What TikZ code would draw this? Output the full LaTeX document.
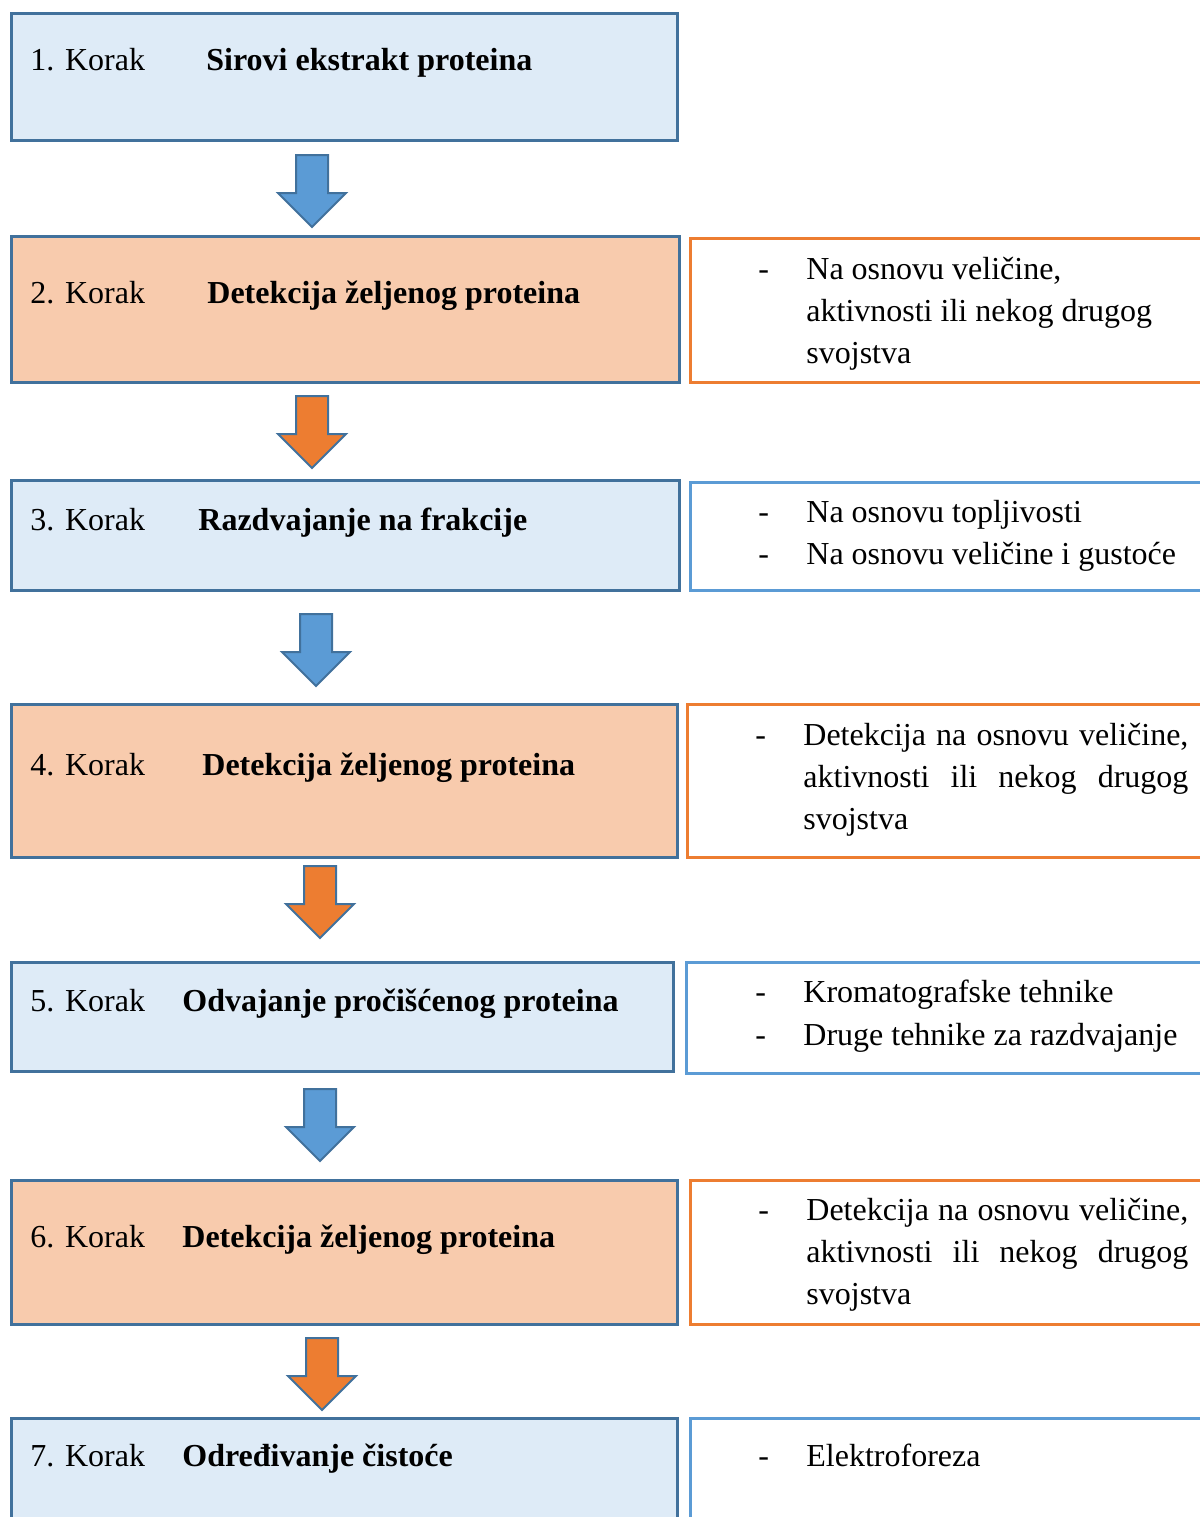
\documentclass[tikz,border=0pt]{standalone}
\usepackage{fontspec}
\setmainfont{Liberation Serif}
\usetikzlibrary{positioning}

\definecolor{stepblue}{HTML}{DEEBF7}
\definecolor{steppeach}{HTML}{F8CBAD}
\definecolor{edgeblue}{HTML}{41719C}
\definecolor{noteorange}{HTML}{ED7D31}
\definecolor{noteblue}{HTML}{5B9BD5}

\tikzset{
  stepbox/.style={draw=edgeblue, line width=1.5pt, rectangle, anchor=north west, inner sep=0pt},
  notebox/.style={draw, line width=1.5pt, fill=white, rectangle, anchor=north west, inner sep=0pt, minimum width=270pt},
  steplabel/.style={anchor=base west, inner sep=0pt, font=\fontsize{16}{21}\selectfont},
  steptitle/.style={anchor=base west, inner sep=0pt, font=\fontsize{16}{21}\selectfont\bfseries},
  notetext/.style={anchor=base west, inner sep=0pt, align=left, font=\fontsize{16}{21}\selectfont},
  korakarrow/.pic={\draw[pic actions, draw=edgeblue, line width=1pt, line join=miter]
    (-16,0) -- (16,0) -- (16,38) -- (34,38) -- (0,72) -- (-34,38) -- (-16,38) -- cycle;}
}

\begin{document}
\begin{tikzpicture}[x=0.5pt, y=-0.5pt]
\useasboundingbox (0,0) rectangle (1200,1517);
\clip (0,0) rectangle (1200,1517);

% koraci
\node[stepbox, fill=stepblue, minimum width=333pt, minimum height=63.5pt] (s1) at (10,12) {};
\node[stepbox, fill=steppeach, minimum width=334pt, minimum height=73pt] (s2) at (10,235) {};
\node[stepbox, fill=stepblue, minimum width=334pt, minimum height=55pt] (s3) at (10,479) {};
\node[stepbox, fill=steppeach, minimum width=333pt, minimum height=76.5pt] (s4) at (10,703) {};
\node[stepbox, fill=stepblue, minimum width=331pt, minimum height=54.5pt] (s5) at (10,961) {};
\node[stepbox, fill=steppeach, minimum width=333pt, minimum height=72pt] (s6) at (10,1179) {};
\node[stepbox, fill=stepblue, minimum width=333pt, minimum height=70pt] (s7) at (10,1417) {};

\node[steplabel] (k1) at (30,70) {1. Korak};
\node[steptitle] (t1) at (206,70) {Sirovi ekstrakt proteina};
\node[steplabel] (k2) at (30,303) {2. Korak};
\node[steptitle] (t2) at (207,303) {Detekcija željenog proteina};
\node[steplabel] (k3) at (30,530) {3. Korak};
\node[steptitle] (t3) at (198,530) {Razdvajanje na frakcije};
\node[steplabel] (k4) at (30,775) {4. Korak};
\node[steptitle] (t4) at (202,775) {Detekcija željenog proteina};
\node[steplabel] (k5) at (30,1011) {5. Korak};
\node[steptitle] (t5) at (182,1011) {Odvajanje pročišćenog proteina};
\node[steplabel] (k6) at (30,1247) {6. Korak};
\node[steptitle] (t6) at (182,1247) {Detekcija željenog proteina};
\node[steplabel] (k7) at (30,1466) {7. Korak};
\node[steptitle] (t7) at (182,1466) {Određivanje čistoće};

% strelice
\pic[fill=noteblue] at (312,155) {korakarrow};
\pic[fill=noteorange] at (312,396) {korakarrow};
\pic[fill=noteblue] at (316,614) {korakarrow};
\pic[fill=noteorange] at (320,866) {korakarrow};
\pic[fill=noteblue] at (320,1089) {korakarrow};
\pic[fill=noteorange] at (322,1338) {korakarrow};

% napomene (visereddi tekst: base = zadnji red)
\node[notebox, draw=noteorange, minimum height=72pt] (r2) at (689,237) {};
\node[notebox, draw=noteblue, minimum height=54pt] (r3) at (689,481) {};
\node[notebox, draw=noteorange, minimum height=76.5pt] (r4) at (686,703) {};
\node[notebox, draw=noteblue, minimum height=55.5pt] (r5) at (685,961) {};
\node[notebox, draw=noteorange, minimum height=72pt] (r6) at (689,1179) {};
\node[notebox, draw=noteblue, minimum height=70pt] (r7) at (689,1417) {};

\node[notetext] (d2) at (758,279) {-};
\node[notetext] (n2) at (806,363) {Na osnovu veličine,\\aktivnosti ili nekog drugog\\svojstva};
\node[notetext] (d3a) at (758,522) {-};
\node[notetext] (n3a) at (806,522) {Na osnovu topljivosti};
\node[notetext] (d3b) at (758,564) {-};
\node[notetext] (n3b) at (806,564) {Na osnovu veličine i gustoće};
\node[notetext] (d4) at (755,745) {-};
\node[notetext] (n4) at (803,829) {\makebox[192.5pt][s]{Detekcija na osnovu veličine,}\\\makebox[192.5pt][s]{aktivnosti ili nekog drugog}\\svojstva};
\node[notetext] (d5a) at (755,1002) {-};
\node[notetext] (n5a) at (803,1002) {Kromatografske tehnike};
\node[notetext] (d5b) at (755,1045) {-};
\node[notetext] (n5b) at (803,1045) {Druge tehnike za razdvajanje};
\node[notetext] (d6) at (758,1220) {-};
\node[notetext] (n6) at (806,1304) {\makebox[191pt][s]{Detekcija na osnovu veličine,}\\\makebox[191pt][s]{aktivnosti ili nekog drugog}\\svojstva};
\node[notetext] (d7) at (758,1466) {-};
\node[notetext] (n7) at (806,1466) {Elektroforeza};

\end{tikzpicture}
\end{document}
